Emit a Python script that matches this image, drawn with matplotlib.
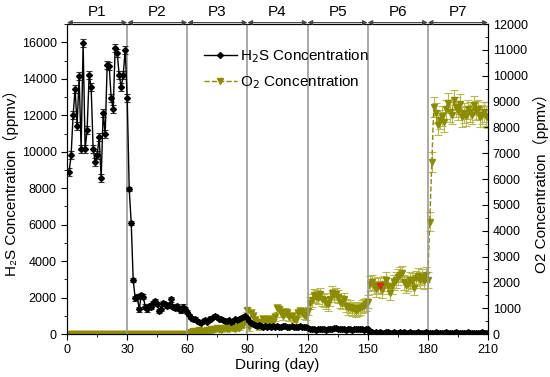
import numpy as np
import matplotlib
matplotlib.use("Agg")
import matplotlib.pyplot as plt
from matplotlib.ticker import MultipleLocator

plt.rcParams['font.family'] = ['Liberation Sans', 'Noto Sans CJK SC', 'DejaVu Sans']

# phase labels and boundaries (days)
phases = ['P1', 'P2', 'P3', 'P4', 'P5', 'P6', 'P7']
bounds = [0, 30, 60, 90, 120, 150, 180, 210]

# H2S concentration, one reading per day (days 1..210), ppmv
h2s_p1 = [8900, 9800, 12000, 13450, 11400, 14150, 10150, 15950, 10150, 11200,
          14200, 13550, 10150, 9450, 9800, 10800, 8550, 12150, 10950, 14750,
          14700, 12950, 12350, 15700, 15400, 14200, 13550, 14200, 15600, 12950]
h2s_p2 = [7950, 6100, 2950, 1950, 2050, 1350, 2150, 2050, 1500, 1350,
          1550, 1500, 1700, 1800, 1650, 1250, 1400, 1700, 1650, 1550,
          1600, 1900, 1500, 1450, 1550, 1400, 1300, 1500, 1350, 1200]
h2s_p3 = [1050, 900, 800, 850, 700, 650, 600, 700, 750, 650,
          800, 850, 950, 1000, 950, 850, 800, 750, 700, 700,
          750, 650, 700, 800, 750, 850, 900, 950, 1000, 900]
h2s_p4 = [700, 600, 550, 500, 450, 500, 450, 400, 450, 400,
          420, 380, 450, 400, 420, 380, 400, 450, 420, 400,
          380, 420, 400, 380, 400, 420, 400, 380, 400, 350]
h2s_p5 = [300, 250, 280, 220, 250, 300, 270, 250, 230, 260,
          300, 280, 350, 320, 250, 280, 300, 260, 240, 280,
          250, 230, 260, 300, 280, 250, 260, 240, 280, 250]
h2s_p6 = [110, 90, 80, 100, 70, 90, 80, 60, 90, 100,
          70, 80, 90, 60, 80, 100, 70, 90, 80, 70,
          90, 60, 80, 70, 90, 80, 60, 80, 90, 70]
h2s_p7 = [80, 60, 70, 90, 60, 80, 70, 60, 90, 70,
          60, 80, 70, 90, 60, 70, 80, 60, 70, 90,
          60, 80, 70, 60, 80, 70, 90, 60, 70, 80]
h2s_err_phase = [220, 120, 60, 50, 40, 30, 30]

# O2 concentration (right axis), ppmv
o2_p1 = [0] * 30
o2_p2 = [0] * 30
o2_p3 = [50, 80, 100, 60, 120, 150, 100, 80, 130, 170,
         120, 200, 150, 180, 230, 200, 170, 220, 250, 200,
         180, 260, 230, 210, 280, 250, 300, 350, 600, 930]
o2_p4 = [280, 800, 700, 550, 450, 300, 450, 600, 500, 550,
         600, 500, 450, 650, 1000, 950, 800, 700, 850, 800,
         650, 700, 600, 550, 800, 900, 850, 750, 700, 900]
o2_p5 = [1200, 1300, 1500, 1450, 1400, 1550, 1350, 1300, 1200, 1150,
         1350, 1600, 1500, 1550, 1450, 1250, 1200, 1350, 1100, 1000,
         1050, 950, 1000, 900, 950, 1000, 1050, 1100, 1150, 1250]
o2_p6 = [1950, 2000, 1850, 1750, 1900, 1850, 1700, 1950, 2100, 1850,
         1600, 1850, 2000, 2100, 2200, 2300, 2350, 2000, 1900, 1950,
         2100, 2050, 1800, 2150, 2250, 2100, 2200, 2050, 2300, 2100]
o2_p7 = [4350, 6650, 8800, 8550, 8100, 8300, 8450, 8200, 8700, 8950,
         8600, 8500, 9050, 8800, 8650, 8900, 8400, 8550, 8450, 8700,
         8600, 8500, 8850, 8650, 8700, 8400, 8500, 8600, 8450, 8350]
o2_err_phase = [0, 0, 80, 150, 250, 300, 380]
red_day = 156

h2s_parts = [h2s_p1, h2s_p2, h2s_p3, h2s_p4, h2s_p5, h2s_p6, h2s_p7]
o2_parts = [o2_p1, o2_p2, o2_p3, o2_p4, o2_p5, o2_p6, o2_p7]
h2s = np.concatenate(h2s_parts)
o2 = np.concatenate(o2_parts)
days = np.arange(1, len(h2s) + 1)
h2s_err = np.concatenate([[e] * len(p) for e, p in zip(h2s_err_phase, h2s_parts)])
o2_err = np.concatenate([[e] * len(p) for e, p in zip(o2_err_phase, o2_parts)])

olive = '#8c8c00'
olive_light = '#b8b850'

fig = plt.figure(figsize=(5.5, 3.77), dpi=100)
ax = fig.add_axes([0.122, 0.114, 0.765, 0.822])
ax2 = ax.twinx()

for b in bounds[1:-1]:
    ax.axvline(b, color='#999999', lw=1.2, zorder=1)

# O2 on right axis
ax2.errorbar(days, o2, yerr=o2_err, fmt='none', ecolor=olive_light,
             elinewidth=0.8, capsize=3, capthick=0.8, zorder=2)
l2, = ax2.plot(days, o2, ls='--', color=olive, lw=1.0, marker='v',
               ms=4.5, mfc=olive, mec=olive, zorder=3)
ax2.plot([red_day], [o2[red_day - 1]], ls='none', marker='v', ms=4.5,
         color='#d03010', zorder=4)

# H2S on left axis
ax.errorbar(days, h2s, yerr=h2s_err, fmt='none', ecolor='#333333',
            elinewidth=0.8, capsize=2.5, capthick=0.8, zorder=4)
l1, = ax.plot(days, h2s, color='black', lw=1.0, marker='D', ms=3, zorder=5)
ax.set_zorder(ax2.get_zorder() + 1)
ax.patch.set_visible(False)

ax.set_xlim(0, 210)
ax.set_ylim(0, 17000)
ax2.set_ylim(0, 12000)
ax.xaxis.set_major_locator(MultipleLocator(30))
ax.xaxis.set_minor_locator(MultipleLocator(15))
ax.yaxis.set_major_locator(MultipleLocator(2000))
ax.yaxis.set_minor_locator(MultipleLocator(1000))
ax2.yaxis.set_major_locator(MultipleLocator(1000))
ax2.yaxis.set_minor_locator(MultipleLocator(500))

ax.tick_params(axis='both', which='major', labelsize=9, length=4, direction='out')
ax.tick_params(axis='both', which='minor', length=2.5, direction='out')
ax.tick_params(axis='x', top=False)
ax2.tick_params(axis='y', which='major', labelsize=9, length=4, direction='in')
ax2.tick_params(axis='y', which='minor', length=2.5, direction='in')

ax.set_xlabel('During (day)', fontsize=11, labelpad=1)
ax.set_ylabel('H\u2082S Concentration（ppmv）', fontsize=11, labelpad=2)
ax2.set_ylabel('O2 Concentration（ppmv）', fontsize=11, labelpad=4)

# phase arrows and labels on top
for i, name in enumerate(phases):
    x0, x1 = bounds[i], bounds[i + 1]
    ax.annotate('', xy=(x1, 1.005), xytext=(x0, 1.005),
                xycoords=('data', 'axes fraction'),
                arrowprops=dict(arrowstyle='<|-|>', color='#444444', lw=0.8,
                                shrinkA=0, shrinkB=0, mutation_scale=7),
                annotation_clip=False)
    ax.text((x0 + x1) / 2, 1.018, name, transform=ax.get_xaxis_transform(),
            ha='center', va='bottom', fontsize=11)

ax.legend([l1, l2], ['H$_2$S Concentration', 'O$_2$ Concentration'],
          loc='upper left', bbox_to_anchor=(0.31, 0.945), frameon=False,
          fontsize=11, handlelength=2.2, handletextpad=0.2, labelspacing=0.55,
          borderaxespad=0)

fig.savefig('out.png', dpi=100)
